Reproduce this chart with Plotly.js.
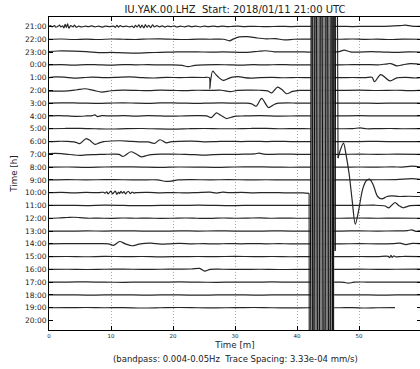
<!DOCTYPE html>
<html>
<head>
<meta charset="utf-8">
<script src="https://cdn.plot.ly/plotly-3.0.1.min.js"></script>
<style>
html,body{margin:0;padding:0;overflow:hidden;background:#fff;}
#chart{width:422px;height:369px;}
</style>
</head>
<body>
<div id="chart"></div>
<script>
// Row labels (one trace per hour, top to bottom)
const rowLabels = ['21:00','22:00','23:00','0:00','1:00','2:00','3:00','4:00','5:00','6:00','7:00','8:00',
  '9:00','10:00','11:00','12:00','13:00','14:00','15:00','16:00','17:00','18:00','19:00','20:00'];
const xTicks = [0,10,20,30,40,50,60];

// Each row: [minute, offset in trace-spacing units]
const row2100 = [[0,0],[0.25,0.06],[0.5,-0.03],[0.9,0.07],[1.1,-0.06],[1.5,0.03],[1.7,0.1],[1.9,-0.04],[2.2,0.05],[2.4,-0.12],[2.6,0.16],[2.8,-0.08],[3.0,0.2],[3.2,-0.14],[3.5,0.06],[3.9,-0.03],[4.1,0.1],[4.4,-0.05],[4.8,0.02],[5.3,-0.04],[5.9,0.03],[6.3,-0.02],[6.9,0.04],[7.4,-0.03],[8.0,0.02],[8.6,-0.05],[9.1,0.02],[9.8,-0.02],[10.4,0.03],[10.7,-0.07],[10.95,0.09],[11.2,-0.05],[11.5,0.06],[11.9,-0.02],[12.5,0.03],[13.0,-0.04],[13.4,0.03],[13.7,-0.09],[13.95,0.08],[14.2,-0.05],[14.5,0.12],[14.75,-0.1],[15.0,0.1],[15.3,-0.12],[15.55,0.14],[15.8,-0.06],[16.1,0.09],[16.4,-0.1],[16.7,0.12],[17.0,-0.04],[17.4,0.06],[17.8,-0.03],[18.3,0.04],[18.7,-0.05],[19.1,0.03],[19.7,-0.02],[20.2,0.05],[20.6,-0.04],[21.2,0.02],[21.9,-0.03],[22.5,0.04],[23.0,-0.02],[23.7,0.03],[24.4,-0.03],[25.0,0.02],[25.7,-0.02],[26.5,0.03],[27.2,-0.01],[28.0,0.02],[28.8,-0.02],[29.6,0.01],[30.5,0.02],[31.5,-0.01],[33,0.01],[35,-0.02],[37,0.01],[39,-0.01],[41,0.01],[43,0],[45,0],[47,0.01],[49,-0.01],[51,0.01],[53,0],[55,0.02],[56.5,0.06],[57.5,0.1],[58.5,0.03],[60,0.01]];
const row2200 = [[0,0],[2,0.02],[4,-0.02],[6,0.01],[8,-0.02],[10,0.02],[12,0],[14,-0.02],[16,0.02],[18,0.03],[20,0],[22,-0.02],[24,0.01],[26,0],[28.2,0],[29.1,-0.12],[29.8,0.03],[30.7,0.18],[32,0.2],[33.5,0.1],[35,0.03],[36.5,0.05],[38,-0.05],[39.5,0],[41,0.01],[43,0],[45,0],[47,0],[49,0.02],[51,-0.01],[53,0.01],[55,-0.02],[57,0.01],[60,0]];
const row2300 = [[0,0.04],[1.4,0.08],[4,0.07],[6,0.03],[8.5,-0.05],[10,-0.03],[12,-0.06],[14,-0.08],[16,-0.05],[18,-0.02],[20,0],[22,0.02],[24,0.01],[26,-0.01],[28,0.01],[30,-0.01],[32,-0.03],[33.8,0.06],[35,0.1],[36.3,0.02],[38,0.01],[40,0.02],[42,0],[45,0],[46.8,0.03],[47.6,0.15],[48.6,0.01],[50,0],[52,0.03],[54,0.0],[56,-0.03],[58,0.01],[60,0]];
const row0000 = [[0,0],[2,0.01],[4,-0.02],[6,0.02],[8,0],[10,-0.02],[12,0.02],[14,0],[16,0.01],[18,-0.01],[20,0],[21.5,-0.05],[22.4,-0.14],[23.5,-0.05],[25,0],[27,0.02],[29,0],[31,-0.02],[33,0.01],[35,-0.01],[37,0.02],[39,0],[41,0],[43,0],[45,0],[47,0],[49,0.01],[51,0.02],[53,0.0],[54.3,0.06],[55.1,0.1],[56.1,-0.08],[57,0],[58.3,0.1],[59.3,0.07],[60,0.03]];
const row0100 = [[0,0],[1,0.05],[2.5,0.03],[4,-0.04],[5.5,0],[7,0.03],[9,0],[11,0.02],[13,0.05],[15,0],[17,-0.03],[19,0.02],[21,0],[23,0.02],[25,0.01],[25.85,0],[25.95,-0.86],[26.05,-0.3],[26.4,0.5],[26.9,0.25],[27.4,0.0],[28.1,-0.22],[28.9,-0.08],[29.6,0.04],[30.5,0.08],[31.5,0.0],[32.5,-0.04],[34,0],[36,0.02],[38,-0.01],[40,0.01],[42,0],[45,0],[47,0],[49,0.01],[51,0],[52.1,0.02],[52.5,-0.32],[53.5,0.23],[55.0,-0.26],[56.1,-0.02],[57.5,0.02],[59,-0.03],[60,0]];
const row0200 = [[0,-0.05],[1.5,-0.06],[3,-0.04],[4.5,0.05],[5.8,0.13],[7.2,0.0],[8.5,-0.13],[10,-0.03],[12,0.02],[14,0],[16,-0.02],[18,0.02],[20,0],[22,-0.02],[24,0.01],[26,0],[27.8,0.01],[29.2,-0.1],[30.4,0],[32,0.02],[34,0.01],[35.3,-0.04],[35.9,-0.2],[36.85,0.26],[37.6,0.05],[38.3,-0.26],[39.3,-0.08],[40.4,0],[42,0],[45,0],[47,0],[50,0.02],[53,-0.01],[56,0.01],[58,-0.02],[60,0]];
const row0300 = [[0,0],[2,0.02],[4,0.03],[6,0],[8,-0.02],[10,0.01],[12,0.03],[14,0],[16,-0.01],[18,0.02],[20,0.03],[22,0],[24,-0.02],[26,0.01],[28,0.02],[30,0],[31.8,0.0],[32.7,-0.06],[33.4,-0.24],[34.3,0.37],[35.4,-0.34],[36.3,-0.1],[37.0,0],[38.5,0.03],[40,0],[42,0],[45,0],[47,0],[50,0.01],[53,-0.01],[56,0.01],[60,0]];
const row0400 = [[0,0],[1.5,0.03],[3,0],[4.5,-0.03],[6,0.0],[7.0,0.03],[7.4,0.09],[7.8,-0.05],[8.5,0.02],[10,0],[12,0.02],[14,-0.01],[16,0.02],[18,0],[20,-0.02],[22,0.01],[24,0.02],[25.4,0],[26.2,-0.13],[27.0,0.24],[27.7,0.05],[28.6,-0.2],[29.4,-0.1],[30.2,-0.02],[31.5,0],[34,0.02],[37,-0.01],[40,0],[42,0],[45,0],[47,0],[50,0.02],[53,0],[56,0.01],[60,0]];
const row0500 = [[0,0],[2.5,0.02],[5,0.03],[7.5,0],[10,-0.02],[12.5,0.01],[15,0.02],[17.5,-0.01],[20,-0.03],[22.5,0],[25,0.02],[27.5,0],[30,0],[32.5,0.02],[35,0.03],[37.5,0],[40,0.01],[42,0],[45,0],[47,0],[49,0.01],[50.2,0.07],[51.2,0],[53,0.01],[55,0.02],[57,0],[60,0.01]];
const row0600 = [[0,0],[1.5,0.02],[3,0.01],[4.2,-0.04],[4.95,-0.16],[6.0,0.23],[6.7,0.05],[7.4,-0.22],[8.1,-0.1],[8.8,-0.01],[10,0.04],[11.5,0.06],[13,0.02],[14.5,-0.02],[16,-0.03],[17.0,-0.15],[17.9,0.14],[18.9,-0.1],[19.8,-0.01],[21,0.02],[23,0.03],[25,-0.02],[27,0.0],[29,0.02],[31,0],[33,0.02],[35,0],[37,0.01],[39,0],[41,0],[43,0],[45,0],[47,0],[50,0],[53,0.01],[56,-0.01],[60,0]];
const row0700 = [[0,0.05],[1,0.08],[2,0.05],[3,0],[4,-0.05],[5,-0.08],[6,-0.04],[7.5,-0.02],[9,0],[10.5,0.02],[11.3,0],[11.9,-0.17],[13.2,0.2],[14,0.05],[14.9,-0.2],[15.7,-0.1],[16.5,-0.02],[18,0.02],[20,0.01],[22,0],[23.5,-0.02],[25,-0.07],[26.5,-0.02],[28,0],[30.5,0],[32,0.02],[33.2,0.03],[33.9,0.1],[34.6,0.02],[36,0],[38,0.02],[40,0],[42,0],[45,0],[47,0],[50,0.01],[53,0],[56,0.01],[60,0]];
const row0800 = [[0,0],[3,0.01],[6,-0.02],[9,0.01],[12,0.02],[15,0],[18,-0.02],[21,0.01],[24,0],[27,-0.02],[30,0.01],[33,0.02],[36,0],[39,-0.01],[42,0],[45,0],[47,0],[50,0.01],[53,0],[55.5,0.02],[57,0.0],[58.5,0.08],[59.4,0.04],[60,0.02]];
const row0900 = [[0,0],[3,0.02],[6,0],[9,0.02],[12,0.01],[15,0],[17.5,0],[18.9,-0.12],[19.7,-0.1],[20.8,0],[23,0.02],[26,0],[29,0.02],[32,0],[35,0.01],[38,0],[41,0],[44,0],[47,0],[50,0],[53,0.01],[56,0.02],[58.5,0.1],[60,0.04]];
const row1000 = [[0,0],[2,0.02],[4,-0.01],[6,0.02],[8,0],[8.8,0.03],[9.05,-0.04],[9.3,0.06],[9.55,-0.09],[9.8,0.05],[10.0,0.12],[10.25,-0.1],[10.5,0.04],[10.7,0.12],[10.95,-0.13],[11.2,0.05],[11.4,-0.08],[11.6,0.1],[11.85,-0.04],[12.1,0.09],[12.35,-0.1],[12.6,0.05],[12.85,0.09],[13.1,-0.07],[13.4,0.04],[13.7,-0.03],[14.0,0],[16,0.02],[18,-0.01],[20,0.01],[22,-0.02],[24,0.01],[26,0.04],[27,-0.03],[28,0.04],[29,0],[31,0.02],[33,-0.01],[35,0.01],[37,0],[39,-0.02],[41,-0.02],[41.95,-0.05]];
// 10:00 row: clipped earthquake swings, and the surface wave after them
const quakeSwing = [[41.95,-0.05],[42.0,-40],[42.4,40],[42.6,-40],[43.0,40],[43.46,-40],[43.89,40],[44.38,-40],[44.81,40],[45.23,-40],[45.62,40],[45.8,-40],[45.99,40],[46.15,-4.55],[46.36,40],[46.62,2.7]];
const quakeFillT = [42.30,42.38,42.46,42.54,42.62,42.70,42.78,42.86,42.94,43.02,43.10,43.18,43.26,43.34,43.42,43.50,43.58,43.66,43.74,43.82,43.90,43.98,44.06,44.14,44.22,44.30,44.38,44.46,44.54,44.62,44.70,44.78,44.86,44.94,45.02,45.10,45.18,45.26,45.34,45.42,45.50,45.58,45.66,45.74,45.82,45.90,45.98];
const quakeFillV = [40,-40,40,-40,40,-40,40,-40,40,-40,40,-40,40,-40,40,-40,40,-40,40,-40,40,-40,40,-40,40,-40,40,-40,40,-40,40,-40,40,-40,40,-40,40,-40,40,-40,40,-40,40,-40,40,-40,40];
const row1000After = [[46.62,2.7],[46.9,3.2],[47.5,3.87],[47.9,3.0],[48.4,1.5],[48.9,-0.6],[49.4,-2.47],[49.9,-1.5],[50.6,0.3],[51.2,0.95],[51.7,1.06],[52.3,0.6],[53.0,-0.3],[53.7,-0.49],[54.5,-0.3],[55.3,-0.25],[56.5,-0.3],[58,-0.28],[60,-0.3]];
const row1100 = [[0,0],[3,0.01],[6,-0.01],[9,0.02],[12,0],[15,-0.02],[18,0.01],[21,0],[24,0.02],[27,0],[30,-0.01],[33,0.01],[36,0],[39,0.01],[42,0],[45,0],[47,0],[50,0.01],[52.5,0.02],[54.2,-0.04],[54.8,-0.19],[55.8,0.23],[56.4,0.0],[57.1,-0.18],[58.3,-0.01],[60,0]];
const row1200 = [[0,0],[1.5,0.02],[3,0.06],[4,0.08],[5,0.05],[6.5,0],[8,0.01],[10,-0.01],[12,0.02],[14,0],[16,0.01],[18,-0.01],[20,0],[22,0.02],[24,0],[26,-0.01],[28,0.02],[30,0],[32,0.01],[34,0.03],[36,0],[38,0.01],[40,0],[42,0],[45,0],[47,0],[50,0.02],[53,0],[56,0.01],[60,0]];
const row1300 = [[0,0],[3,-0.01],[6,0.01],[9,0],[12,0.02],[15,0],[18,-0.01],[21,0.01],[24,0],[27,0.01],[30,0],[33,-0.01],[36,0.01],[39,0],[42,0],[45,0],[47,0],[50,0.01],[53,0],[56,0.01],[57.8,0.03],[58.5,0.09],[59.2,-0.03],[60,0.02]];
const row1400 = [[0,0],[2.5,0.01],[5,0.02],[7.5,0.01],[9.6,0],[10.4,-0.12],[11.4,0.18],[12.3,0.0],[13.4,-0.15],[14.5,-0.03],[15.5,0.04],[16.5,0.05],[18,-0.02],[19.5,0.0],[21,0.03],[23,0],[25,0.01],[27,-0.01],[29,0.02],[31,0],[33,0.02],[35,0],[37,0.01],[39,0],[42,0],[45,0],[47,0],[50,0.01],[53,0],[55.5,0.02],[56.6,0.06],[57.6,-0.06],[58.6,0.04],[60,0]];
const row1500 = [[0,0],[3,0.01],[6,-0.01],[9,0.02],[12,0],[15,0.01],[18,-0.02],[21,0],[24,0.01],[27,0],[30,0.02],[33,0],[36,0.01],[39,-0.01],[42,0],[45,0],[47,0],[50,0.01],[53,0],[54.7,0.02],[54.95,-0.08],[55.15,0.1],[55.35,-0.06],[55.6,0.05],[55.9,-0.01],[57,0.01],[60,0]];
const row1600 = [[0,0],[3,0.01],[6,-0.01],[9,0.01],[12,0.02],[15,0],[18,0.01],[21,0.02],[23,0.03],[24.3,0.08],[25.1,-0.14],[26,0],[28,0.01],[31,0],[34,0.01],[37,-0.01],[40,0],[42,0],[45,0],[47,0],[50,0.02],[53,0],[56,0.01],[60,0.02]];
const row1700 = [[0,0],[3,0.01],[6,0.02],[9,0],[12,-0.01],[15,0.01],[18,0],[21,0.02],[24,0],[27,-0.01],[30,0.01],[33,0],[36,0.02],[39,0],[42,0],[45,0],[47,0],[47.6,-0.02],[48.3,-0.08],[49.2,0],[52,0.01],[55,0],[58,0.01],[60,0]];
const row1800 = [[0,0],[3,0.01],[6,-0.01],[9,0],[12,0.01],[15,-0.01],[18,0],[21,0.01],[24,-0.02],[27,0],[30,0.01],[33,-0.01],[36,0],[39,0.01],[42,0],[45,0],[47,0],[50,0.01],[53,-0.01],[56,0],[60,0.01]];
const row1900 = [[0,0],[3,0.01],[6,0.02],[9,0],[12,0.01],[15,-0.02],[18,0],[21,0.02],[24,0],[27,-0.01],[30,0.01],[33,0.02],[36,0],[39,-0.01],[42,0],[45,0],[47,0],[49,0.01],[51,-0.02],[53,0],[55.8,0.01]];
const row2000 = [];

const rows = [row2100,row2200,row2300,row0000,row0100,row0200,row0300,row0400,row0500,row0600,row0700,row0800,
  row0900,row1000,row1100,row1200,row1300,row1400,row1500,row1600,row1700,row1800,row1900,row2000];

const FONT = 'DejaVu Sans, Liberation Sans, sans-serif';
const LINE = '#262626';
const quakeRow = rowLabels.indexOf('10:00');

const traces = [];
rows.forEach((r, i) => {
  if (!r.length) return;
  traces.push({
    type: 'scatter', mode: 'lines', hoverinfo: 'skip', showlegend: false,
    x: r.map(p => p[0]), y: r.map(p => p[1] - i),
    line: {color: LINE, width: 1.2, shape: 'spline', smoothing: 0.8}
  });
});
traces.push({
  type: 'scatter', mode: 'lines', showlegend: false, hoverinfo: 'skip',
  x: quakeFillT, y: quakeFillV.map(v => v - quakeRow),
  line: {color: '#7e7e7e', width: 0.9}
});
traces.push({
  type: 'scatter', mode: 'lines', showlegend: false, hoverinfo: 'skip',
  x: quakeSwing.map(p => p[0]), y: quakeSwing.map(p => p[1] - quakeRow),
  line: {color: '#111', width: 1.0}
});
traces.push({
  type: 'scatter', mode: 'lines', showlegend: false, hoverinfo: 'skip',
  x: row1000After.map(p => p[0]), y: row1000After.map(p => p[1] - quakeRow),
  line: {color: LINE, width: 1.2, shape: 'spline', smoothing: 0.8}
});

const layout = {
  width: 422, height: 369,
  margin: {l: 49, r: 1, t: 17, b: 39},
  paper_bgcolor: '#fff', plot_bgcolor: '#fff',
  font: {family: FONT, color: '#222'},
  title: {text: 'IU.YAK.00.LHZ\u00a0 Start: 2018/01/11 21:00 UTC', font: {family: FONT, size: 10, color: '#222'},
    x: 0.5, xref: 'paper', xanchor: 'center', y: 1 - 9.8/369, yref: 'container', yanchor: 'middle'},
  xaxis: {
    range: [0, 60], tickvals: xTicks, ticktext: xTicks.map(String),
    showline: true, mirror: 'ticks', linecolor: '#000', linewidth: 1,
    ticks: 'inside', ticklen: 4, tickcolor: '#000', tickfont: {family: FONT, size: 5.5, color: '#222'},
    showgrid: true, gridcolor: '#a8a8a8', griddash: '1px,2px', gridwidth: 1, zeroline: false,
    title: {text: 'Time [m]', font: {family: FONT, size: 8.7, color: '#222'}, standoff: 4}
  },
  yaxis: {
    range: [-23.74, 0.74], tickvals: rowLabels.map((_, i) => -i), ticktext: rowLabels,
    showline: true, mirror: 'ticks', linecolor: '#000', linewidth: 1,
    ticks: 'inside', ticklen: 4, tickcolor: '#000', tickfont: {family: FONT, size: 7.5, color: '#222'},
    showgrid: false, zeroline: false,
    title: {text: 'Time [h]', font: {family: FONT, size: 8.7, color: '#222'}, standoff: 5}
  },
  annotations: [{
    text: '(bandpass: 0.004-0.05Hz\u00a0 Trace Spacing: 3.33e-04 mm/s)',
    xref: 'paper', yref: 'paper', x: 0.5, y: (330 - 358.5) / 312.7, xanchor: 'center', yanchor: 'middle',
    showarrow: false, font: {family: FONT, size: 8.5, color: '#222'}
  }]
};

Plotly.newPlot('chart', traces, layout, {staticPlot: true, displayModeBar: false});
</script>
</body>
</html>
